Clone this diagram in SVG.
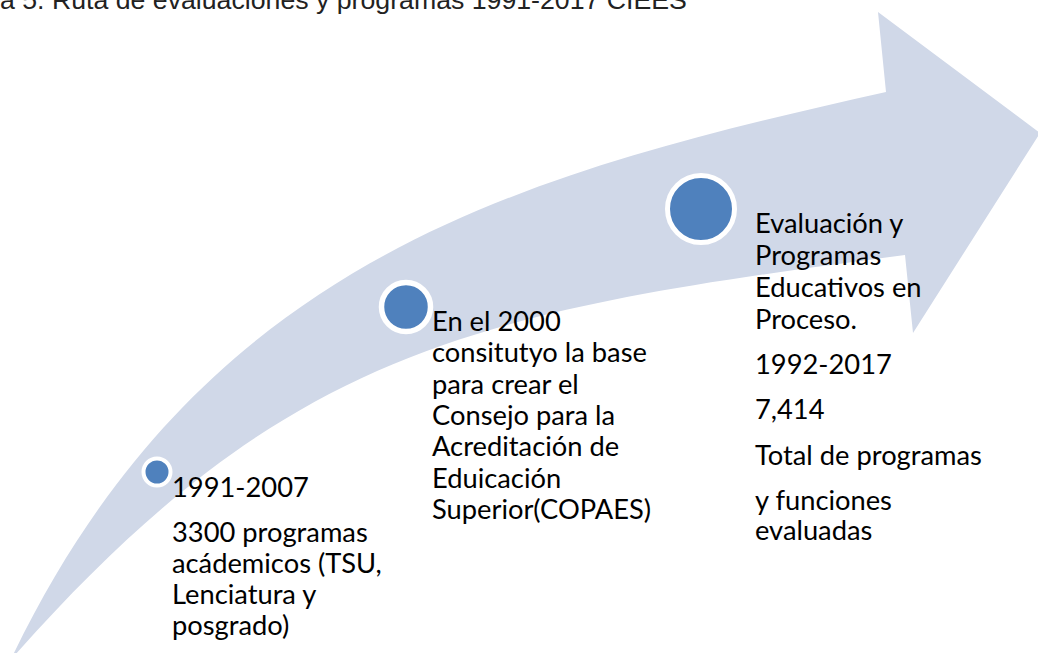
<svg xmlns="http://www.w3.org/2000/svg" width="1038" height="653" viewBox="0 0 1038 653">
<style>
.title{font-family:"Liberation Sans",Arial,sans-serif;font-size:26.7px;fill:#222}
.t{font-family:Lato,"Open Sans",sans-serif;font-size:27.3px;fill:#000}
.dot{fill:#4F81BD;stroke:#fff}
</style>
<rect width="1038" height="653" fill="#fff"/>
<text class="title" x="0" y="9">a 5. Ruta de evaluaciones y programas 1991-2017 CIEES</text>
<g id="connectors">
<path id="arrow" d="M13,655 C205,258 520,174 886,92 L878,12 L1040,133 L913,333 L905,255 C480,311 290,345 15,655 Z" fill="#D0D8E8"/>
</g>
<g id="node1">
<circle class="dot" cx="157" cy="472" r="13.5" stroke-width="4"/>
<text class="t" x="172" y="497">1991-2007</text>
<text class="t" x="172"><tspan x="172" y="542">3300 programas</tspan><tspan x="172" y="573">acádemicos (TSU,</tspan><tspan x="172" y="604">Lenciatura y</tspan><tspan x="172" y="635">posgrado)</tspan></text>
</g>
<g id="node2">
<circle class="dot" cx="406" cy="307" r="24.5" stroke-width="5.5"/>
<text class="t"><tspan x="432" y="331">En el 2000</tspan><tspan x="432" y="362.3">consitutyo la base</tspan><tspan x="432" y="393.6">para crear el</tspan><tspan x="432" y="424.9">Consejo para la</tspan><tspan x="432" y="456.2">Acreditación de</tspan><tspan x="432" y="487.5">Eduicación</tspan><tspan x="432" y="518.8">Superior(COPAES)</tspan></text>
</g>
<g id="node3">
<circle class="dot" cx="701" cy="209" r="33.5" stroke-width="5"/>
<text class="t"><tspan x="755" y="233">Evaluación y</tspan><tspan x="755" y="265">Programas</tspan><tspan x="755" y="297">Educativos en</tspan><tspan x="755" y="329">Proceso.</tspan></text>
<text class="t" x="755" y="374">1992-2017</text>
<text class="t" x="755" y="419">7,414</text>
<text class="t" x="755" y="465">Total de programas</text>
<text class="t"><tspan x="755" y="510">y funciones</tspan><tspan x="755" y="540">evaluadas</tspan></text>
</g>
</svg>
